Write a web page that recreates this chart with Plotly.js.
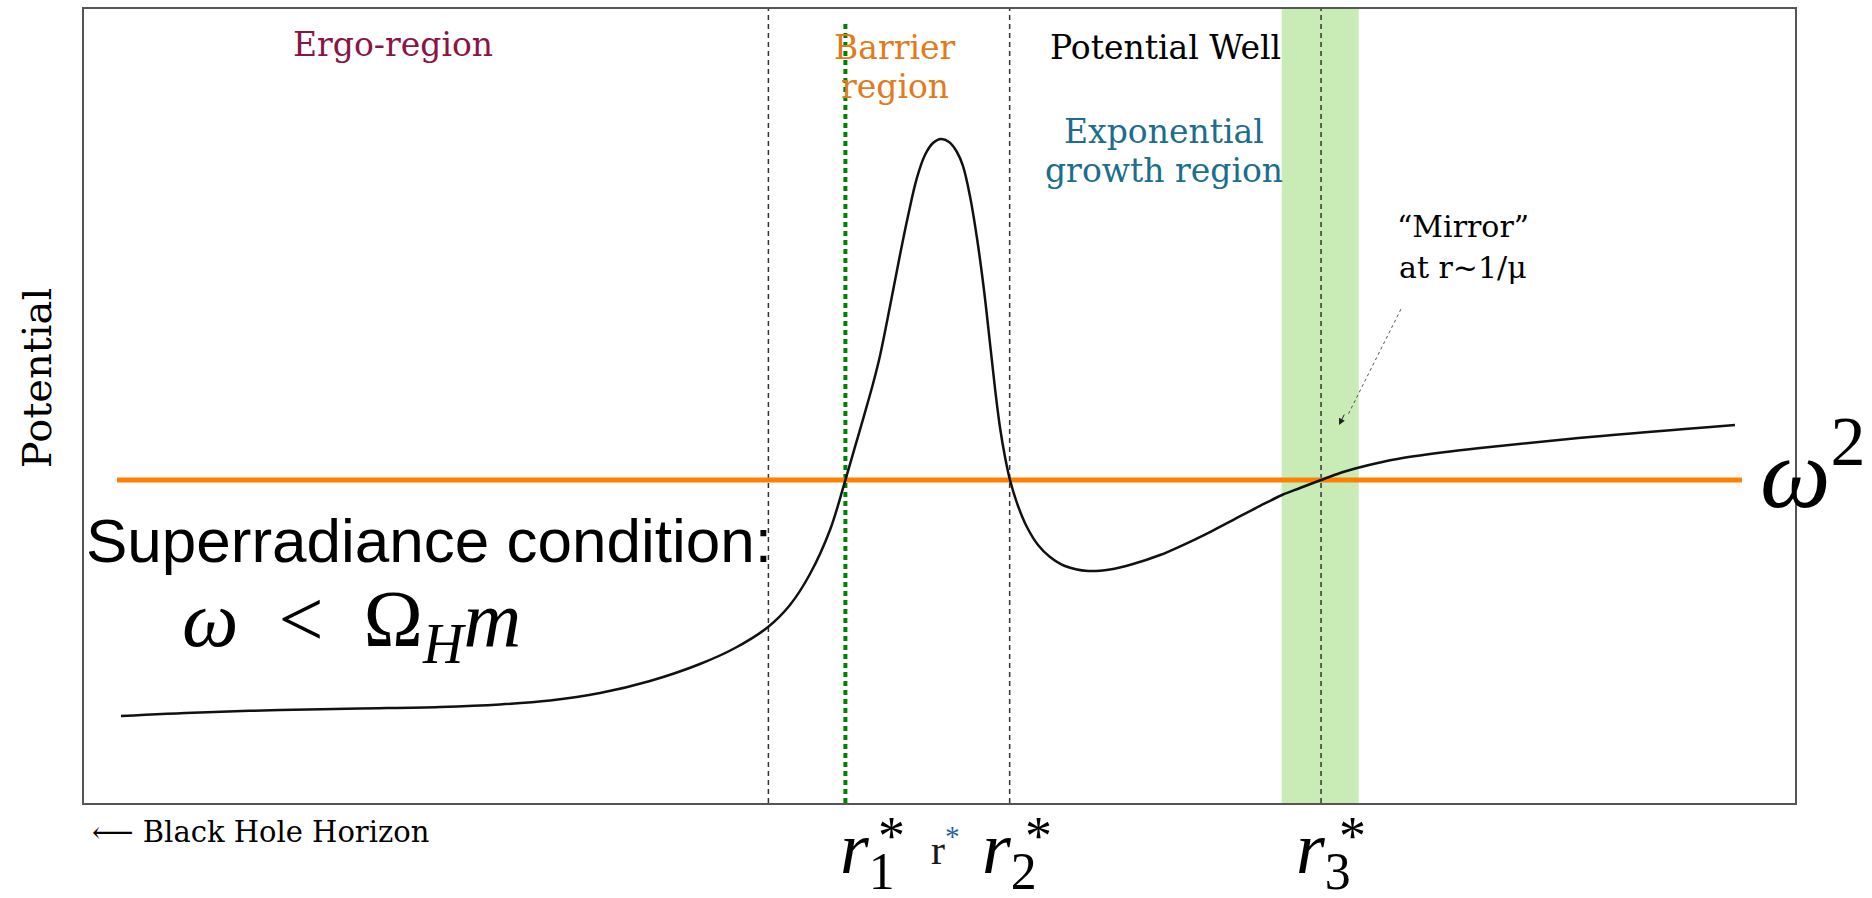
<!DOCTYPE html>
<html>
<head>
<meta charset="utf-8">
<script src="https://cdn.plot.ly/plotly-3.0.1.min.js"></script>
<style>html,body{margin:0;padding:0;background:#fff;}#chart{width:1872px;height:898px;}</style>
</head>
<body>
<div id="chart"></div>
<script>
// Tortoise coordinate r* (arbitrary units, 0..100 across the frame)
const rStar = [2.16, 6.78, 11.46, 16.13, 20.81, 24.31, 27.24, 30.16, 33.08, 36.00, 38.05, 39.98, 41.26, 42.43, 43.60, 44.48, 45.06, 45.65, 46.11, 46.52, 47.11, 47.69, 48.16, 48.68, 49.15, 49.62, 50.09, 50.56, 51.02, 51.37, 51.78, 52.19, 52.60, 52.95, 53.24, 53.54, 53.83, 54.12, 54.59, 55.11, 55.76, 56.46, 57.33, 58.68, 59.96, 61.31, 62.89, 64.23, 65.81, 67.15, 68.73, 70.02, 71.07, 72.30, 73.41, 74.52, 75.74, 76.91, 79.84, 82.17, 88.02, 96.49];
// Effective potential (arbitrary units)
const potential = [10.96, 11.40, 11.71, 11.90, 12.09, 12.41, 12.91, 13.85, 15.37, 17.51, 19.52, 22.17, 24.94, 28.84, 34.38, 40.55, 44.84, 49.24, 52.77, 56.30, 62.59, 69.02, 73.93, 78.72, 81.61, 83.12, 83.63, 83.25, 81.99, 80.23, 76.45, 71.16, 64.61, 57.93, 52.27, 47.23, 43.58, 40.68, 37.41, 34.76, 32.49, 30.98, 29.85, 29.22, 29.41, 30.10, 31.23, 32.49, 34.13, 35.64, 37.41, 38.79, 39.67, 40.68, 41.56, 42.25, 42.88, 43.39, 44.27, 44.84, 46.10, 47.61];
// omega^2 level line
const omegaLineX = [1.93, 96.9];
const omegaLineY = [40.68, 40.68];
// Region boundaries
const boundaryX = [40.0, 54.1, 72.3];     // dashed lines
const rStarPeakX = [44.5];                // green dotted line
const mirrorBand = [70.0, 74.5];          // shaded band
// Tick-like labels under the axis
const rLabels = ['<i>r</i><sub>1</sub>', '<i>r</i><sub>2</sub>', '<i>r</i><sub>3</sub>'];
const rLabelX = [44.07, 52.37, 70.72];
const starX = [47.22, 55.76, 74.11];

const serif = 'DejaVu Serif, Liberation Serif, serif';
const mathFont = 'Liberation Serif, DejaVu Serif, serif';

const traces = [
  {x: omegaLineX, y: omegaLineY, mode: 'lines', line: {color: '#ff8000', width: 5}, hoverinfo: 'skip', showlegend: false},
  {x: rStar, y: potential, mode: 'lines', line: {color: '#111', width: 2.5, shape: 'spline', smoothing: 1.0}, hoverinfo: 'skip', showlegend: false}
];

const shapes = [
  {type: 'rect', xref: 'x', yref: 'paper', x0: mirrorBand[0], x1: mirrorBand[1], y0: 0, y1: 1, fillcolor: '#c9ecb7', line: {width: 0}, layer: 'below'}
];
boundaryX.forEach(x => shapes.push({type: 'line', xref: 'x', yref: 'paper', x0: x, x1: x, y0: 0, y1: 1, line: {color: '#333', width: 1.5, dash: '5px,4px'}, layer: 'below'}));
rStarPeakX.forEach(x => shapes.push({type: 'line', xref: 'x', yref: 'paper', x0: x, x1: x, y0: 0, y1: 0.985, line: {color: '#008000', width: 4, dash: '5px,4px'}, layer: 'below'}));
// dotted arrow shaft
shapes.push({type: 'line', xref: 'x', yref: 'y', x0: 76.97, y0: 62.2, x1: 73.9, y1: 49.0, line: {color: '#555', width: 1, dash: 'dot'}});

function lbl(text, x, y, size, color, extra) {
  return Object.assign({text: text, x: x, y: y, xref: 'x', yref: 'y', xanchor: 'center', yanchor: 'middle', showarrow: false, font: {family: serif, size: size, color: color}}, extra || {});
}

const annotations = [
  lbl('Ergo-region', 18.06, 95.47, 33, '#8a1544'),
  lbl('Barrier', 47.4, 95.09, 33, '#e07b20'),
  lbl('region', 47.4, 90.3, 33, '#e07b20'),
  lbl('Potential Well', 63.18, 95.09, 33, '#000'),
  lbl('Exponential', 63.12, 84.6, 33, '#1c6e8c'),
  lbl('growth region', 63.12, 79.6, 33, '#1c6e8c'),
  lbl('\u201cMirror\u201d', 80.6, 72.6, 30, '#000'),
  lbl('at r~1/\u03bc', 80.6, 67.5, 30, '#000'),
  {text: '', x: 73.35, y: 47.6, xref: 'x', yref: 'y', showarrow: true, arrowhead: 2, arrowsize: 1.3, arrowwidth: 1, arrowcolor: '#222', ax: 6, ay: -12},
  {text: 'Potential', x: -0.0275, y: 0.535, xref: 'paper', yref: 'paper', xanchor: 'center', yanchor: 'middle', textangle: -90, showarrow: false, font: {family: serif, size: 40, color: '#000'}},
  {text: '\u27f5 Black Hole Horizon', x: 0.0035, y: -0.0365, xref: 'paper', yref: 'paper', xanchor: 'left', yanchor: 'middle', showarrow: false, font: {family: serif, size: 29, color: '#000'}},
  {text: 'Superradiance condition:', x: 0, y: 33.1, xref: 'paper', yref: 'y', xanchor: 'left', yanchor: 'middle', showarrow: false, font: {family: 'Liberation Sans, Arial, sans-serif', size: 62, color: '#000'}},
  {text: '<i>\u03c9</i>\u2002<\u2002\u03a9<sub><i>H</i></sub><i>m</i>', x: 5.61, y: 22.4, xref: 'x', yref: 'y', xanchor: 'left', yanchor: 'middle', showarrow: false, font: {family: mathFont, size: 80, color: '#000'}},
  {text: '<i>\u03c9</i><sup>2</sup>', x: 97.84, y: 42.5, xref: 'x', yref: 'y', xanchor: 'left', yanchor: 'middle', showarrow: false, font: {family: mathFont, size: 100, color: '#000'}},
  {text: 'r<sup><span style="color:#2a5fa8">*</span></sup>', x: 49.4, y: -0.055, xref: 'x', yref: 'paper', xanchor: 'left', yanchor: 'middle', showarrow: false, font: {family: mathFont, size: 42, color: '#1a1a1a'}}
];
rLabels.forEach((t, i) => annotations.push({text: t, x: rLabelX[i], y: -0.063, xref: 'x', yref: 'paper', xanchor: 'left', yanchor: 'middle', showarrow: false, font: {family: mathFont, size: 74, color: '#000'}}));
starX.forEach(x => annotations.push({text: '*', x: x, y: -0.041, xref: 'x', yref: 'paper', xanchor: 'center', yanchor: 'middle', showarrow: false, font: {family: mathFont, size: 54, color: '#000'}}));

const axisCommon = {showgrid: false, zeroline: false, showticklabels: false, ticks: '', showline: true, mirror: true, linecolor: '#555', linewidth: 2, fixedrange: true};

const layout = {
  width: 1872, height: 898,
  margin: {l: 84, r: 77, t: 9, b: 95},
  paper_bgcolor: '#fff', plot_bgcolor: '#fff',
  xaxis: Object.assign({range: [0, 100]}, axisCommon),
  yaxis: Object.assign({range: [0, 100]}, axisCommon),
  shapes: shapes,
  annotations: annotations,
  showlegend: false
};

Plotly.newPlot('chart', traces, layout, {staticPlot: true, displayModeBar: false});
</script>
</body>
</html>
